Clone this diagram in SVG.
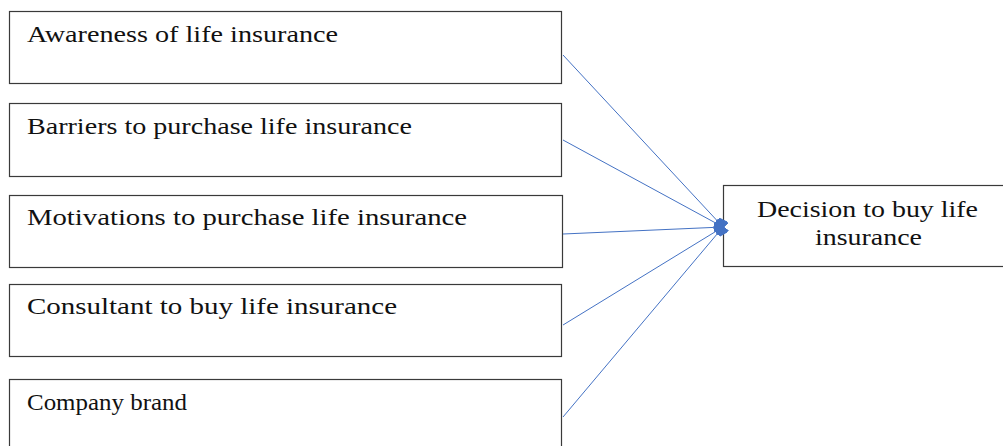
<svg xmlns="http://www.w3.org/2000/svg" width="1003" height="446" viewBox="0 0 1003 446">
<style>
.box{fill:#fff;stroke:#3a3a3a;stroke-width:1.2}
.t{font-family:"Liberation Serif","Times New Roman",serif;font-size:24px;fill:#111}
.c{stroke:#4472C4;stroke-width:1;fill:none}
</style>
<defs>
<marker id="ah" viewBox="0 0 10 14" refX="9" refY="7" markerWidth="10" markerHeight="14" markerUnits="userSpaceOnUse" orient="auto">
<path d="M0,3 Q5,1 10,0 L10,14 Q5,13 0,11 Q-1,7 0,3 Z" fill="#4472C4"/>
</marker>
</defs>
<rect width="1003" height="446" fill="#fff"/>
<g id="n1"><rect class="box" x="9.5" y="11.5" width="552" height="72"/><text class="t" x="27" y="42" textLength="311" lengthAdjust="spacingAndGlyphs">Awareness of life insurance</text></g>
<g id="n2"><rect class="box" x="9.5" y="103.5" width="552" height="73"/><text class="t" x="27" y="134" textLength="385" lengthAdjust="spacingAndGlyphs">Barriers to purchase life insurance</text></g>
<g id="n3"><rect class="box" x="9.5" y="195.5" width="553" height="72"/><text class="t" x="27" y="225" textLength="440" lengthAdjust="spacingAndGlyphs">Motivations to purchase life insurance</text></g>
<g id="n4"><rect class="box" x="9.5" y="284.5" width="552" height="72"/><text class="t" x="27" y="314" textLength="370" lengthAdjust="spacingAndGlyphs">Consultant to buy life insurance</text></g>
<g id="n5"><rect class="box" x="9.5" y="379.5" width="552" height="80"/><text class="t" x="27" y="410" textLength="160" lengthAdjust="spacingAndGlyphs">Company brand</text></g>
<g id="n6"><rect class="box" x="723.5" y="185.5" width="290" height="81"/><text class="t" x="757" y="217" textLength="221" lengthAdjust="spacingAndGlyphs">Decision to buy life</text><text class="t" x="815" y="245" textLength="107" lengthAdjust="spacingAndGlyphs">insurance</text></g>
<g id="connectors">
<line class="c" x1="563" y1="55" x2="723" y2="227" marker-end="url(#ah)"/>
<line class="c" x1="563" y1="140" x2="723" y2="227" marker-end="url(#ah)"/>
<line class="c" x1="563" y1="234" x2="723" y2="227" marker-end="url(#ah)"/>
<line class="c" x1="563" y1="325" x2="723" y2="227" marker-end="url(#ah)"/>
<line class="c" x1="563" y1="417" x2="723" y2="227" marker-end="url(#ah)"/>
</g>
</svg>
